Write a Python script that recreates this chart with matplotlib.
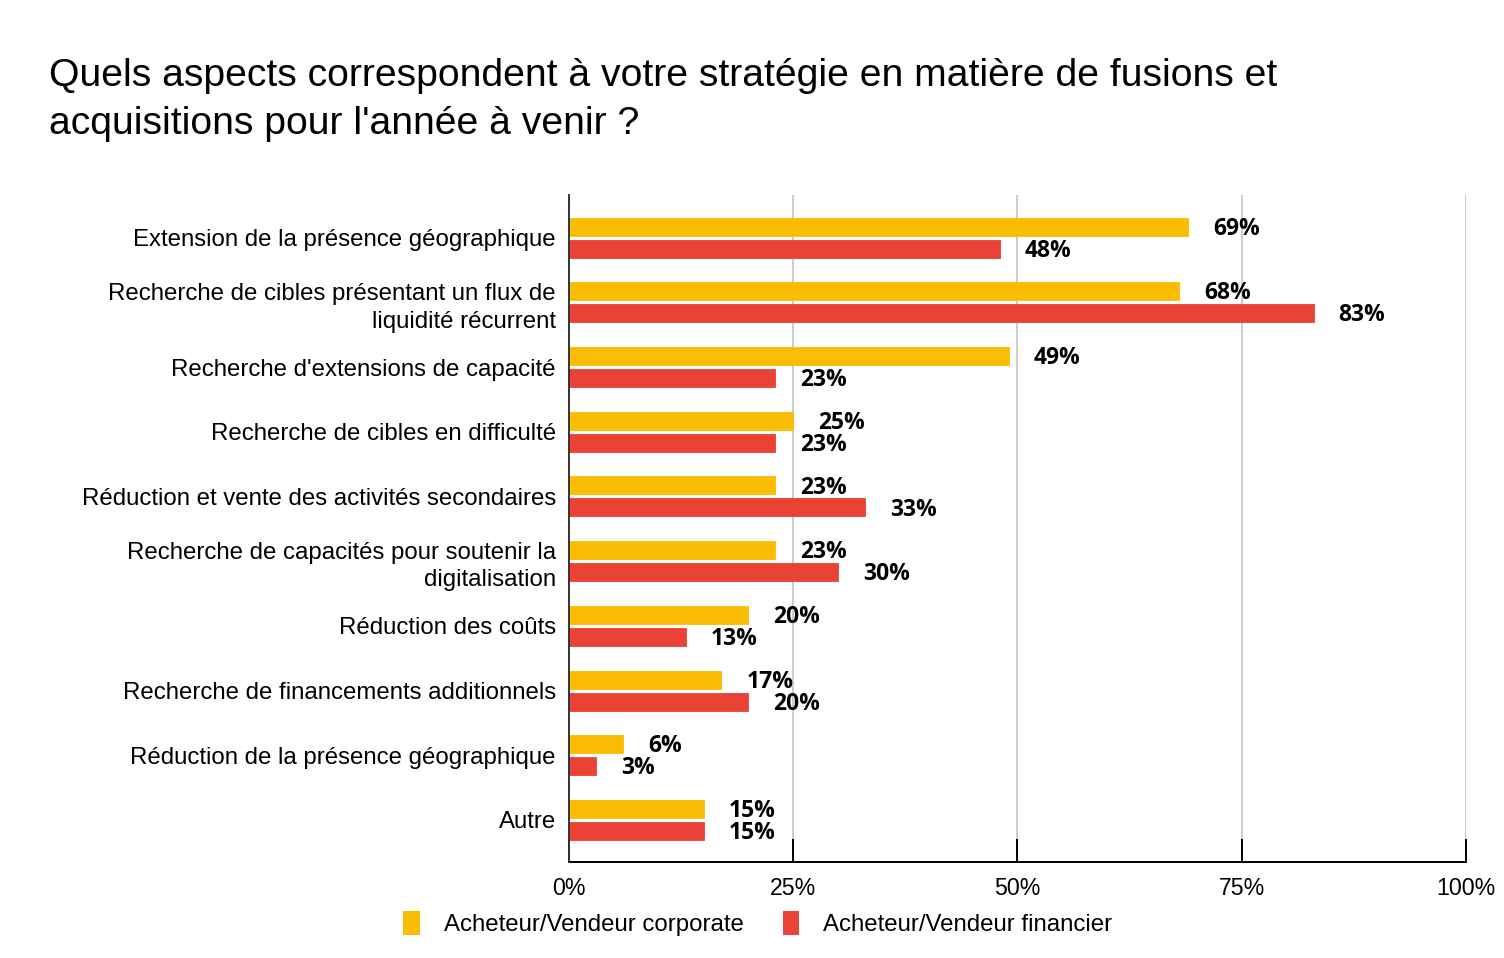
import matplotlib
matplotlib.use('Agg')
import matplotlib.pyplot as plt
import matplotlib.patches as mpatches
from matplotlib.ticker import FuncFormatter

# ── Données ─────────────────────────────────────────────────────────────────
categories = [
    "Extension de la présence géographique",
    "Recherche de cibles présentant un flux de\nliquidité récurrent",
    "Recherche d'extensions de capacité",
    "Recherche de cibles en difficulté",
    "Réduction et vente des activités secondaires",
    "Recherche de capacités pour soutenir la\ndigitalisation",
    "Réduction des coûts",
    "Recherche de financements additionnels",
    "Réduction de la présence géographique",
    "Autre",
]
corporate = [69, 68, 49, 25, 23, 23, 20, 17, 6, 15]
financier = [48, 83, 23, 23, 33, 30, 13, 20, 3, 15]
series_names = ["Acheteur/Vendeur corporate", "Acheteur/Vendeur financier"]
x_ticks = [0, 25, 50, 75, 100]

# ── Palette ─────────────────────────────────────────────────────────────────
YELLOW = "#FBBC04"
RED = "#EA4335"
GRID = "#CCCCCC"
SANS = "Liberation Sans"
BOLD = "Open Sans"

fig = plt.figure(figsize=(15.04, 9.58), dpi=100)
ax = fig.add_axes([569 / 1504, 96 / 958, 897 / 1504, 667 / 958])

bh = 0.278
off = 0.17
y = list(range(len(categories)))
ax.barh([v - off for v in y], corporate, height=bh, color=YELLOW,
        edgecolor=YELLOW, linewidth=0.6, joinstyle='round', zorder=3)
ax.barh([v + off for v in y], financier, height=bh, color=RED,
        edgecolor=RED, linewidth=0.6, joinstyle='round', zorder=3)

# étiquettes de valeur
for yi, c, f in zip(y, corporate, financier):
    for val, yy in ((c, yi - off), (f, yi + off)):
        ax.annotate(f"{val}%", xy=(val, yy), xytext=(18, -1.5),
                    textcoords='offset points', ha='left', va='center',
                    fontsize=16.5, fontweight='bold', family=BOLD,
                    color='black', zorder=5)

ax.set_xlim(0, 100)
ax.set_ylim(9.65, -0.66)
ax.set_xticks(x_ticks)
ax.xaxis.set_major_formatter(FuncFormatter(lambda v, p: f"{int(v)}%"))
ax.set_yticks(y)
ax.set_yticklabels(categories, fontsize=17.3, family=SANS, linespacing=1.33)
for lab in ax.get_xticklabels():
    lab.set_family(SANS)
    lab.set_fontsize(16.7)

ax.tick_params(axis='y', length=0, pad=9.5)
ax.tick_params(axis='x', direction='in', length=16.5, width=1.4,
               color='black', pad=11)

ax.grid(axis='x', color=GRID, linewidth=1.4)
ax.set_axisbelow(True)
for s in ('top', 'right'):
    ax.spines[s].set_visible(False)
ax.spines['left'].set_color('#333333')
ax.spines['left'].set_linewidth(1.4)
ax.spines['left'].set_zorder(4)
ax.spines['bottom'].set_color('black')
ax.spines['bottom'].set_linewidth(1.4)

fig.text(49 / 1504, 1 - 58 / 958,
         "Quels aspects correspondent à votre stratégie en matière de fusions et\n"
         "acquisitions pour l'année à venir ?",
         ha='left', va='top', fontsize=28.2, family=SANS, linespacing=1.43)

handles = [mpatches.Patch(facecolor=YELLOW, label=series_names[0]),
           mpatches.Patch(facecolor=RED, label=series_names[1])]
fig.legend(handles=handles, loc='center', bbox_to_anchor=(0.504, 0.036),
           ncol=2, frameon=False, prop={'family': SANS, 'size': 17.3},
           handlelength=0.7, handleheight=1.2, handletextpad=1.0,
           columnspacing=1.6)

fig.savefig("out.png", dpi=100)
